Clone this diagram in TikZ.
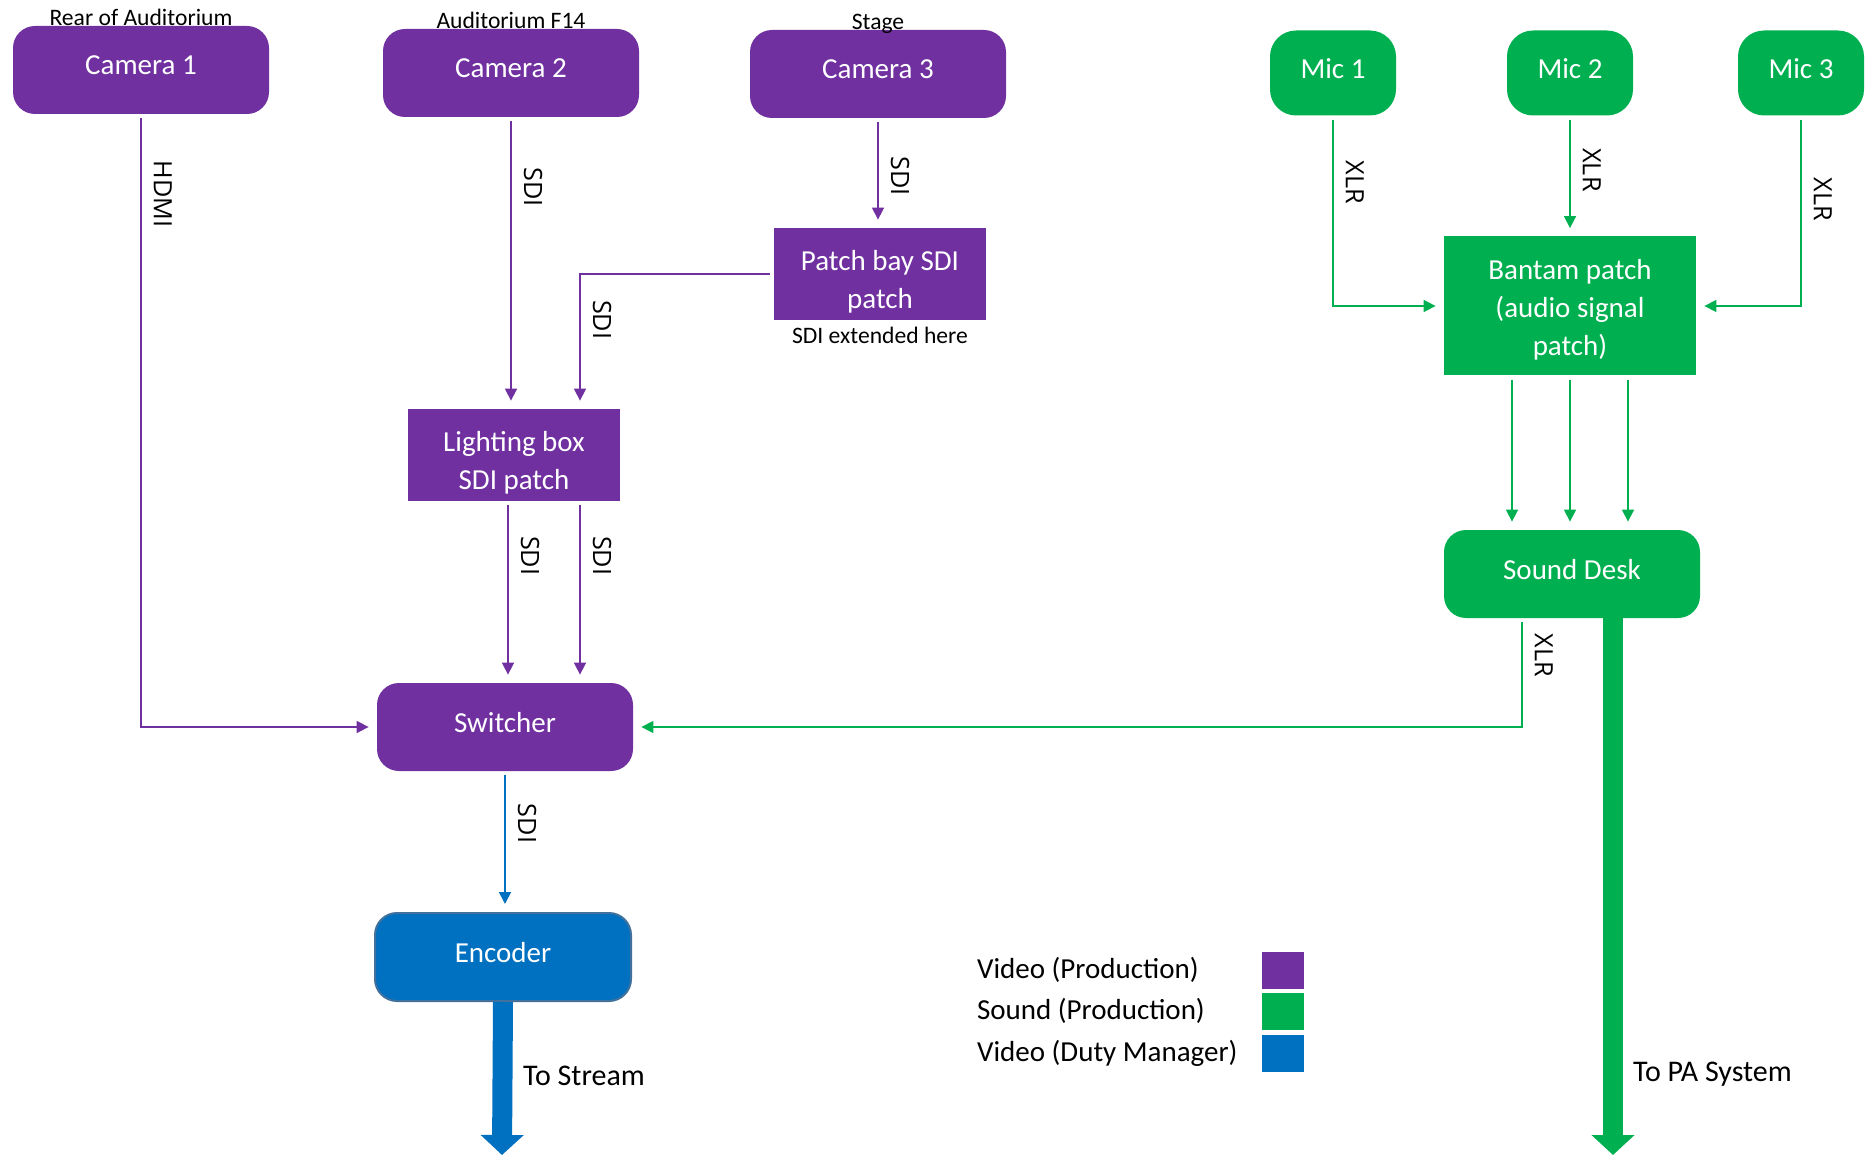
\documentclass[tikz,border=0pt]{standalone}
\usepackage{fontspec}
\setmainfont{Carlito}
\newfontfamily\wirefont{Open Sans}
\usetikzlibrary{arrows.meta,positioning}
\definecolor{vidpurple}{HTML}{7030A0}
\definecolor{sndgreen}{HTML}{00B050}
\definecolor{dmblue}{HTML}{0070C0}
\definecolor{encedge}{HTML}{41719C}

\begin{document}
\begin{tikzpicture}[x=0.5pt,y=-0.5pt,
    box/.style={fill=#1,text=white,minimum width=128pt,minimum height=44pt,rounded corners=11pt,align=center,text depth=4.8pt,font=\fontsize{14.5}{19}\selectfont},
    patchbox/.style={fill=#1,text=white,minimum width=106pt,minimum height=46pt,align=center,text height=37pt,font=\fontsize{14.5}{19}\selectfont},
    mic/.style={fill=sndgreen,text=white,minimum width=63pt,minimum height=42.5pt,rounded corners=13pt,text depth=4.8pt,font=\fontsize{14.5}{19}\selectfont},
    wire/.style={draw=#1,line width=0.8pt,-{Triangle[length=6pt,width=6pt]},shorten >=4pt,shorten <=2pt},
    lbl/.style={rotate=-90,anchor=south,inner sep=6pt,font=\wirefont\fontsize{12.6}{15}\selectfont},
    toplbl/.style={anchor=base,inner sep=0pt,font=\fontsize{11.8}{14}\selectfont},
    fat/.style={draw=#1,line width=10pt,-{Triangle[length=10pt,width=21pt]}},
    legtxt/.style={anchor=west,font=\fontsize{14.5}{19}\selectfont},
    totxt/.style={anchor=west,font=\fontsize{15}{19}\selectfont},
    swatch/.style={fill=#1,minimum width=21pt,minimum height=18.5pt,inner sep=0pt}]
    \useasboundingbox (0,0) rectangle (1865,1155);
    \node[box=vidpurple] (cam1) at (141,70) {Camera 1};
    \node[box=vidpurple] (cam2) at (511,73) {Camera 2};
    \node[box=vidpurple] (cam3) at (878,74) {Camera 3};
    \node[toplbl] (cam1loc) at (cam1.north) {Rear of Auditorium};
    \node[toplbl] (cam2loc) at (cam2.north) {Auditorium F14};
    \node[toplbl] (cam3loc) at (cam3.north) {Stage};
    \node[patchbox=vidpurple] (pb) at (880,274) {Patch bay SDI\\patch};
    \node[below=0pt of pb,font=\fontsize{11.8}{14}\selectfont] (pbnote) {SDI extended here};
    \node[patchbox=vidpurple] (lb) at (514,455) {Lighting box\\SDI patch};
    \node[box=vidpurple] (sw) at (505,727) {Switcher};
    \node[box=dmblue,draw=encedge,line width=1pt] (enc) at (503,957) {Encoder};
    \node[mic] (mic1) at (1333,73) {Mic 1};
    \node[mic] (mic2) at (1570,73) {Mic 2};
    \node[mic] (mic3) at (1801,73) {Mic 3};
    \node[patchbox=sndgreen,minimum width=126pt,minimum height=69.5pt,text height=52pt] (bp) at (1570,306) {Bantam patch\\(audio signal\\patch)};
    \node[box=sndgreen] (sd) at (1572,574) {Sound Desk};
    \coordinate (stream) at (502,1155);
    \coordinate (pa) at (1613,1155);

    \draw[wire=vidpurple] (cam1.south) |- node[lbl,pos=0.065]{HDMI} (sw.west);
    \draw[wire=vidpurple] (cam2.south) -- node[lbl,pos=0.24]{SDI} (cam2.south |- lb.north);
    \draw[wire=vidpurple] (cam3.south) -- node[lbl,pos=0.53]{SDI} (cam3.south |- pb.north);
    \draw[wire=vidpurple] (pb.west) -| node[lbl,pos=0.67]{SDI} ([xshift=33pt]lb.north);
    \draw[wire=vidpurple] ([xshift=-3pt]lb.south) -- node[lbl,pos=0.3]{SDI} ([xshift=-3pt]lb.south |- sw.north);
    \draw[wire=vidpurple] ([xshift=33pt]lb.south) -- node[lbl,pos=0.3]{SDI} ([xshift=33pt]lb.south |- sw.north);
    \draw[wire=dmblue] (sw.south) -- node[lbl,pos=0.37]{SDI} (sw.south |- enc.north);
    \draw[fat=dmblue] (enc.south) -- node[totxt,pos=0.48,xshift=2pt]{To Stream} (stream);

    \draw[wire=sndgreen] (mic1.south) |- node[lbl,pos=0.175]{XLR} (bp.west);
    \draw[wire=sndgreen] (mic2.south) -- node[lbl,pos=0.45]{XLR} (mic2.south |- bp.north);
    \draw[wire=sndgreen] (mic3.south) |- node[lbl,pos=0.22]{XLR} (bp.east);
    \draw[wire=sndgreen] ([xshift=-29pt]bp.south) -- ([xshift=-29pt]bp.south |- sd.north);
    \draw[wire=sndgreen] (bp.south) -- (bp.south |- sd.north);
    \draw[wire=sndgreen] ([xshift=29pt]bp.south) -- ([xshift=29pt]bp.south |- sd.north);
    \draw[wire=sndgreen] ([xshift=-25pt]sd.south) |- node[lbl,pos=0.17]{XLR} (sw.east);
    \draw[fat=sndgreen] ([xshift=20.5pt]sd.south) -- node[totxt,pos=0.85,xshift=1.7pt]{To PA System} (pa);

    \node[legtxt] (legvid) at (970,970) {Video (Production)};
    \node[legtxt] (legsnd) at (970,1011) {Sound (Production)};
    \node[legtxt] (legdm) at (970,1053) {Video (Duty Manager)};
    \node[swatch=vidpurple] (swvid) at (1283,970) {};
    \node[swatch=sndgreen] (swsnd) at (1283,1011) {};
    \node[swatch=dmblue] (swdm) at (1283,1053) {};
\end{tikzpicture}
\end{document}
